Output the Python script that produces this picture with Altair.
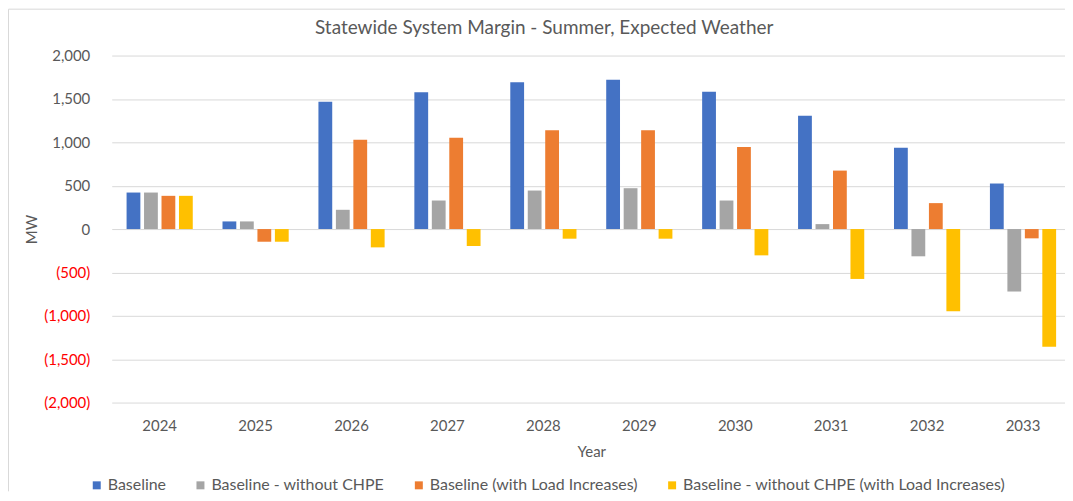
import altair as alt
import pandas as pd

title_text = "Statewide System Margin - Summer, Expected Weather"
years = ["2024", "2025", "2026", "2027", "2028", "2029", "2030", "2031", "2032", "2033"]
series_names = [
    "Baseline",
    "Baseline - without CHPE",
    "Baseline (with Load Increases)",
    "Baseline - without CHPE (with Load Increases)",
]
baseline = [421, 88, 1467, 1578, 1693, 1720, 1582, 1306, 938, 525]
without_chpe = [421, 88, 222, 329, 444, 471, 329, 57, -314, -720]
with_load = [383, -146, 1030, 1053, 1138, 1138, 946, 674, 299, -107]
without_chpe_load = [383, -146, -211, -195, -111, -111, -303, -575, -946, -1356]
colors = ["#4472C4", "#A5A5A5", "#ED7D31", "#FFC000"]
y_ticks = [-2000, -1500, -1000, -500, 0, 500, 1000, 1500, 2000]

rows = []
for name, vals in zip(series_names, [baseline, without_chpe, with_load, without_chpe_load]):
    for yr, v in zip(years, vals):
        rows.append({"Year": yr, "Series": name, "MW": v})
df = pd.DataFrame(rows)

FONT = "Lato"
TXT = "#595959"

bars = alt.Chart(df).mark_bar().encode(
    x=alt.X(
        "Year:N",
        sort=years,
        scale=alt.Scale(paddingInner=0.31, paddingOuter=0.155, range=[0, 962]),
        axis=alt.Axis(
            labelAngle=0, ticks=False, domain=False, grid=False,
            labelPadding=16, labelFontSize=15, labelColor=TXT, labelFont=FONT,
            title="Year", titleFontSize=15, titleColor=TXT, titleFont=FONT,
            titleFontWeight="normal", titlePadding=11,
        ),
    ),
    xOffset=alt.XOffset("Series:N", sort=series_names,
                        scale=alt.Scale(paddingInner=0.21, paddingOuter=0)),
    y=alt.Y(
        "MW:Q",
        scale=alt.Scale(domain=[-2000, 2000], nice=False),
        axis=alt.Axis(
            values=y_ticks, ticks=False, domain=False,
            gridColor="#D9D9D9", gridWidth=1,
            labelPadding=22, labelFontSize=15, labelFont=FONT,
            labelColor={"condition": {"test": "datum.value < 0", "value": "#FF0000"}, "value": TXT},
            labelExpr="datum.value < 0 ? '(' + format(-datum.value, ',') + ')' : format(datum.value, ',')",
            title="MW", titleFontSize=15, titleColor=TXT, titleFont=FONT,
            titleFontWeight="normal", titleX=-80, titleY=174, titleBaseline="middle",
            titleAlign="center",
        ),
    ),
    color=alt.Color(
        "Series:N",
        sort=series_names,
        scale=alt.Scale(domain=series_names, range=colors),
        legend=alt.Legend(
            title=None, orient="none", direction="horizontal",
            legendX=-23, legendY=423, symbolType="square", symbolSize=64,
            symbolStrokeWidth=0, labelFontSize=16, labelFont=FONT, labelColor=TXT,
            labelOffset=3, columnPadding=26, labelLimit=500, padding=0,
        ),
    ),
)

single = alt.Data(values=[{}])
frame = alt.Chart(single).mark_rule(color="#D9D9D9", strokeWidth=1).encode(
    x=alt.value(-103.5), y=alt.value(-46.5), y2=alt.value(437)
)
frame_top = alt.Chart(single).mark_rule(color="#D9D9D9", strokeWidth=1).encode(
    x=alt.value(-103.5), x2=alt.value(956), y=alt.value(-46.5)
)
title_mark = alt.Chart(single).mark_text(
    font=FONT, fontSize=19, color=TXT, align="center", baseline="middle"
).encode(x=alt.value(433.7), y=alt.value(-28), text=alt.value(title_text))

chart = alt.layer(bars, frame, frame_top, title_mark).properties(
    width=956,
    height=348,
    padding={"left": 104, "top": 47, "right": 0, "bottom": 90},
    autosize=alt.AutoSizeParams(type="none"),
).configure_view(stroke=None)

chart.save("out.html", embed_options={"renderer": "svg", "actions": False})
